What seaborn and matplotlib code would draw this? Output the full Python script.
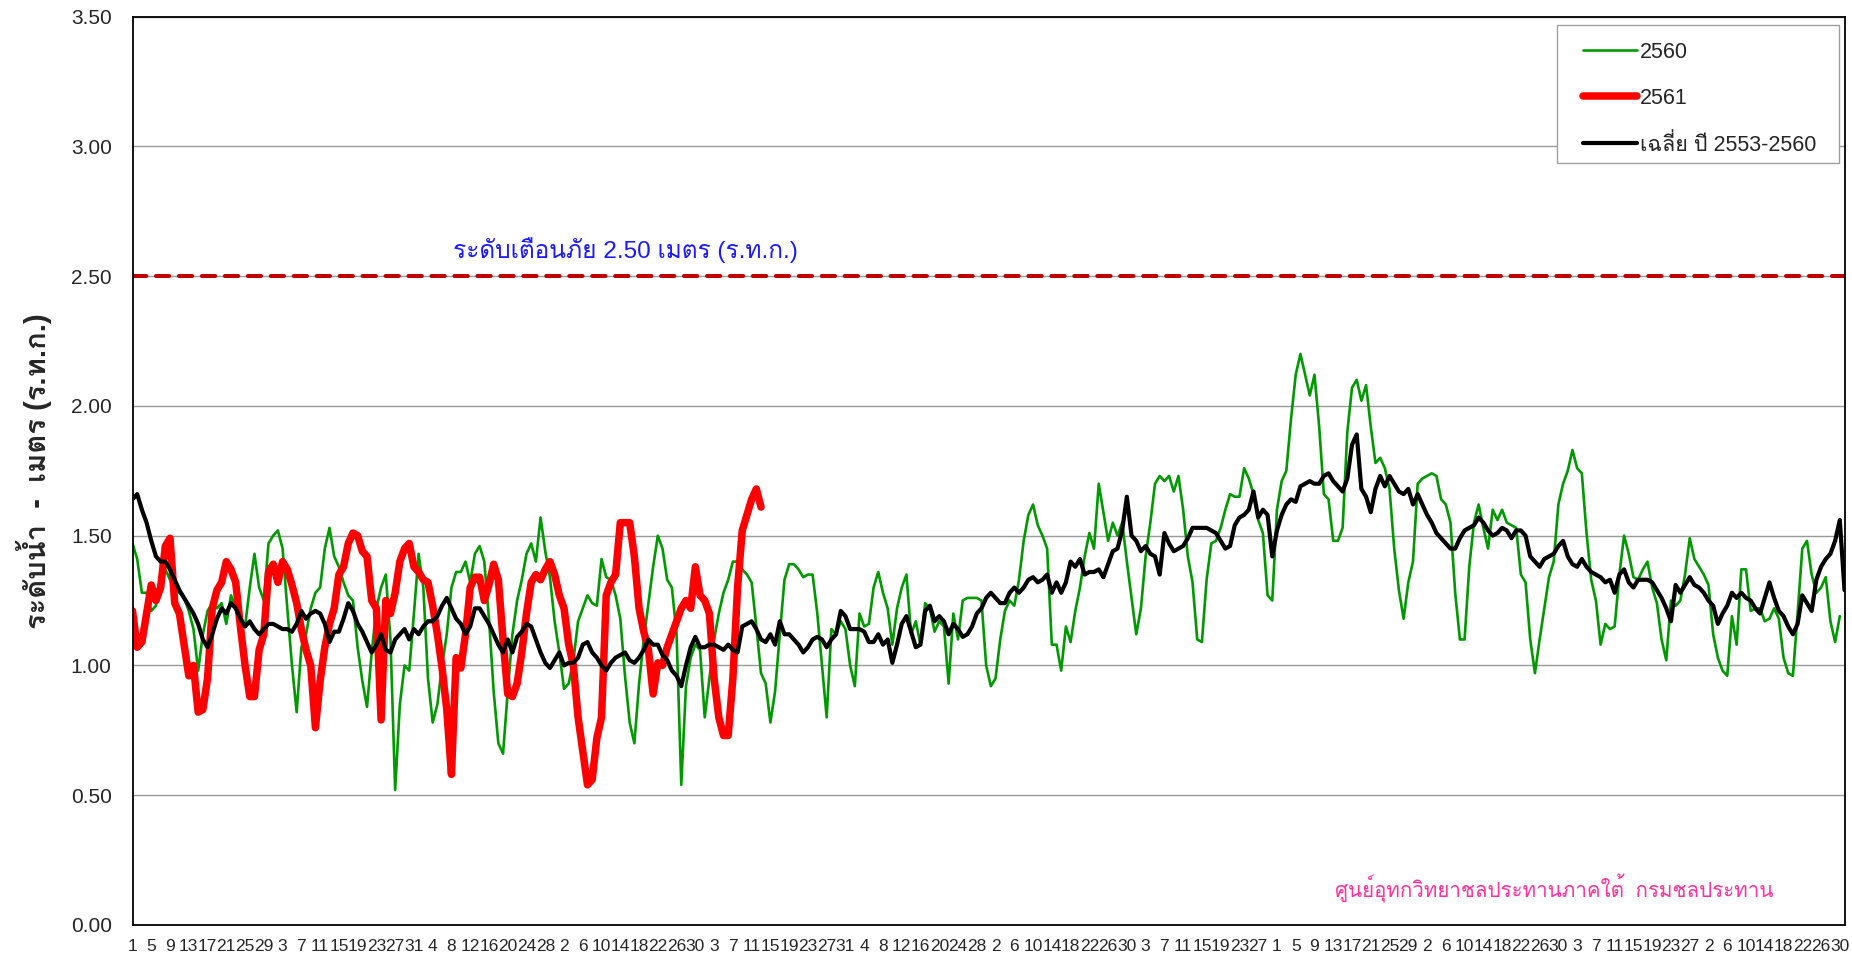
import matplotlib
matplotlib.use("Agg")
import matplotlib.pyplot as plt
import numpy as np
import pandas as pd
import seaborn as sns
from matplotlib import font_manager
from matplotlib.ft2font import FT2Font
from matplotlib.patches import Rectangle

# water year runs April -> March, one value per day
month_days = [30, 31, 30, 31, 31, 30, 31, 30, 31, 31, 29, 31]

# 2560 (green), 365 values
level_2560 = [
    1.47, 1.41, 1.28, 1.28, 1.21, 1.23, 1.36, 1.37, 1.33, 1.29,
    1.28, 1.26, 1.21, 1.14, 0.98, 1.12, 1.21, 1.24, 1.22, 1.24,
    1.16, 1.27, 1.22, 1.18, 1.15, 1.30, 1.43, 1.30, 1.25, 1.47,
    1.50, 1.52, 1.45, 1.22, 1.00, 0.82, 1.07, 1.12, 1.22, 1.28,
    1.30, 1.45, 1.53, 1.42, 1.38, 1.32, 1.27, 1.25, 1.07, 0.94,
    0.84, 1.05, 1.22, 1.30, 1.35, 1.10, 0.52, 0.85, 1.00, 0.98,
    1.20, 1.43, 1.30, 0.95, 0.78, 0.85, 1.00, 1.12, 1.30, 1.36,
    1.36, 1.40, 1.32, 1.43, 1.46, 1.40, 1.18, 0.90, 0.70, 0.66,
    0.90, 1.12, 1.25, 1.33, 1.43, 1.47, 1.40, 1.57, 1.44, 1.34,
    1.17, 1.05, 0.91, 0.93, 1.02, 1.17, 1.22, 1.27, 1.24, 1.23,
    1.41, 1.34, 1.33, 1.27, 1.18, 0.96, 0.78, 0.70, 0.93, 1.10,
    1.24, 1.38, 1.50, 1.45, 1.33, 1.30, 1.12, 0.54, 0.92, 1.03,
    1.08, 1.06, 0.80, 0.95, 1.10, 1.20, 1.28, 1.33, 1.40, 1.40,
    1.37, 1.35, 1.32, 1.15, 0.97, 0.93, 0.78, 0.90, 1.12, 1.33,
    1.39, 1.39, 1.37, 1.34, 1.35, 1.35, 1.20, 1.00, 0.80, 1.14,
    1.12, 1.17, 1.14, 1.00, 0.92, 1.20, 1.15, 1.16, 1.30, 1.36,
    1.28, 1.22, 1.08, 1.22, 1.30, 1.35, 1.12, 1.17, 1.08, 1.24,
    1.22, 1.13, 1.17, 1.15, 0.93, 1.20, 1.10, 1.25, 1.26, 1.26,
    1.26, 1.25, 1.00, 0.92, 0.95, 1.10, 1.21, 1.25, 1.23, 1.33,
    1.48, 1.58, 1.62, 1.54, 1.50, 1.45, 1.08, 1.08, 0.98, 1.15,
    1.09, 1.21, 1.30, 1.42, 1.51, 1.45, 1.70, 1.59, 1.48, 1.55,
    1.50, 1.55, 1.40, 1.26, 1.12, 1.22, 1.42, 1.55, 1.70, 1.73,
    1.71, 1.73, 1.67, 1.73, 1.60, 1.42, 1.32, 1.10, 1.09, 1.33,
    1.47, 1.48, 1.53, 1.60, 1.66, 1.65, 1.65, 1.76, 1.72, 1.66,
    1.56, 1.51, 1.27, 1.25, 1.60, 1.71, 1.75, 1.95, 2.12, 2.20,
    2.12, 2.04, 2.12, 1.92, 1.66, 1.64, 1.48, 1.48, 1.53, 1.90,
    2.07, 2.10, 2.02, 2.08, 1.92, 1.78, 1.80, 1.76, 1.68, 1.45,
    1.29, 1.18, 1.32, 1.40, 1.70, 1.72, 1.73, 1.74, 1.73, 1.64,
    1.62, 1.55, 1.28, 1.10, 1.10, 1.38, 1.55, 1.62, 1.53, 1.45,
    1.60, 1.56, 1.60, 1.55, 1.54, 1.53, 1.35, 1.32, 1.10, 0.97,
    1.10, 1.22, 1.34, 1.40, 1.62, 1.70, 1.75, 1.83, 1.76, 1.74,
    1.51, 1.33, 1.25, 1.08, 1.16, 1.14, 1.15, 1.35, 1.50, 1.43,
    1.34, 1.33, 1.37, 1.40, 1.30, 1.24, 1.10, 1.02, 1.25, 1.23,
    1.25, 1.35, 1.49, 1.41, 1.38, 1.35, 1.31, 1.12, 1.03, 0.98,
    0.96, 1.19, 1.08, 1.37, 1.37, 1.21, 1.22, 1.22, 1.17, 1.18,
    1.22, 1.18, 1.03, 0.97, 0.96, 1.20, 1.45, 1.48, 1.35, 1.28,
    1.30, 1.34, 1.17, 1.09, 1.19,
]

# 2561 (red), Apr 1 -> Aug 13
level_2561 = [
    1.21, 1.07, 1.09, 1.20, 1.31, 1.25, 1.30, 1.46, 1.49, 1.24,
    1.20, 1.08, 0.96, 1.00, 0.82, 0.83, 0.95, 1.22, 1.29, 1.32,
    1.40, 1.37, 1.32, 1.15, 1.00, 0.88, 0.88, 1.06, 1.12, 1.36,
    1.39, 1.32, 1.40, 1.37, 1.31, 1.24, 1.14, 1.06, 1.00, 0.76,
    0.94, 1.07, 1.16, 1.22, 1.35, 1.38, 1.47, 1.51, 1.50, 1.44,
    1.42, 1.25, 1.22, 0.79, 1.25, 1.20, 1.28, 1.40, 1.45, 1.47,
    1.38, 1.36, 1.33, 1.32, 1.23, 1.12, 0.99, 0.83, 0.58, 1.03,
    0.99, 1.12, 1.30, 1.34, 1.34, 1.25, 1.31, 1.39, 1.33, 1.10,
    0.89, 0.88, 0.93, 1.05, 1.20, 1.32, 1.35, 1.33, 1.37, 1.40,
    1.35, 1.27, 1.22, 1.08, 1.00, 0.80, 0.67, 0.54, 0.56, 0.72,
    0.80, 1.27, 1.32, 1.35, 1.55, 1.55, 1.55, 1.42, 1.22, 1.13,
    1.06, 0.89, 1.01, 1.00, 1.07, 1.12, 1.17, 1.22, 1.25, 1.22,
    1.38, 1.27, 1.25, 1.20, 0.95, 0.80, 0.73, 0.73, 0.95, 1.30,
    1.52, 1.58, 1.64, 1.68, 1.61,
]

# mean 2553-2560 (black), 366 values
level_avg = [
    1.64, 1.66, 1.60, 1.55, 1.48, 1.42, 1.40, 1.40, 1.37, 1.33,
    1.29, 1.26, 1.23, 1.20, 1.16, 1.10, 1.07, 1.12, 1.18, 1.22,
    1.20, 1.24, 1.22, 1.18, 1.15, 1.17, 1.14, 1.12, 1.14, 1.16,
    1.16, 1.15, 1.14, 1.14, 1.13, 1.16, 1.21, 1.18, 1.20, 1.21,
    1.20, 1.16, 1.09, 1.13, 1.13, 1.18, 1.24, 1.21, 1.16, 1.13,
    1.09, 1.05, 1.08, 1.12, 1.06, 1.05, 1.10, 1.12, 1.14, 1.10,
    1.14, 1.12, 1.15, 1.17, 1.17, 1.19, 1.23, 1.26, 1.22, 1.18,
    1.16, 1.12, 1.15, 1.22, 1.22, 1.19, 1.16, 1.12, 1.08, 1.05,
    1.10, 1.05, 1.11, 1.13, 1.16, 1.15, 1.10, 1.05, 1.01, 0.99,
    1.02, 1.05, 1.00, 1.01, 1.01, 1.03, 1.08, 1.09, 1.05, 1.03,
    1.00, 0.98, 1.01, 1.03, 1.04, 1.05, 1.02, 1.01, 1.03, 1.06,
    1.10, 1.08, 1.08, 1.04, 1.02, 0.98, 0.96, 0.92, 1.00, 1.07,
    1.11, 1.07, 1.07, 1.08, 1.08, 1.07, 1.06, 1.08, 1.06, 1.05,
    1.15, 1.16, 1.17, 1.14, 1.10, 1.09, 1.12, 1.08, 1.17, 1.12,
    1.12, 1.10, 1.08, 1.05, 1.07, 1.10, 1.11, 1.10, 1.07, 1.10,
    1.12, 1.21, 1.19, 1.14, 1.14, 1.14, 1.13, 1.09, 1.09, 1.12,
    1.08, 1.10, 1.01, 1.08, 1.16, 1.19, 1.13, 1.07, 1.08, 1.21,
    1.23, 1.17, 1.19, 1.17, 1.12, 1.16, 1.14, 1.11, 1.12, 1.15,
    1.20, 1.22, 1.26, 1.28, 1.26, 1.24, 1.24, 1.28, 1.30, 1.28,
    1.30, 1.33, 1.34, 1.32, 1.33, 1.35, 1.28, 1.32, 1.28, 1.32,
    1.40, 1.38, 1.41, 1.35, 1.36, 1.36, 1.37, 1.34, 1.39, 1.44,
    1.45, 1.52, 1.65, 1.50, 1.48, 1.44, 1.46, 1.43, 1.42, 1.35,
    1.51, 1.47, 1.44, 1.45, 1.46, 1.49, 1.53, 1.53, 1.53, 1.53,
    1.52, 1.51, 1.48, 1.45, 1.46, 1.54, 1.57, 1.58, 1.60, 1.67,
    1.57, 1.60, 1.58, 1.42, 1.52, 1.58, 1.62, 1.64, 1.63, 1.69,
    1.70, 1.71, 1.70, 1.70, 1.73, 1.74, 1.71, 1.69, 1.67, 1.72,
    1.85, 1.89, 1.68, 1.65, 1.59, 1.68, 1.73, 1.69, 1.73, 1.70,
    1.67, 1.66, 1.68, 1.62, 1.66, 1.62, 1.58, 1.55, 1.51, 1.49,
    1.47, 1.45, 1.45, 1.49, 1.52, 1.53, 1.54, 1.57, 1.55, 1.52,
    1.50, 1.51, 1.53, 1.52, 1.49, 1.52, 1.52, 1.50, 1.42, 1.40,
    1.38, 1.41, 1.42, 1.43, 1.46, 1.48, 1.42, 1.39, 1.38, 1.41,
    1.38, 1.36, 1.35, 1.34, 1.32, 1.33, 1.28, 1.35, 1.37, 1.32,
    1.30, 1.33, 1.33, 1.33, 1.32, 1.29, 1.26, 1.22, 1.17, 1.31,
    1.28, 1.31, 1.34, 1.31, 1.30, 1.28, 1.25, 1.23, 1.16, 1.20,
    1.23, 1.28, 1.26, 1.28, 1.26, 1.25, 1.22, 1.20, 1.26, 1.32,
    1.26, 1.21, 1.19, 1.15, 1.12, 1.16, 1.27, 1.24, 1.21, 1.33,
    1.38, 1.41, 1.43, 1.48, 1.56, 1.29,
]

warn_level = 2.50
series_names = ["2560", "2561", "เฉลี่ย ปี 2553-2560"]
series_colors = ["#009900", "#ff0000", "#000000"]


def find_thai_font():
    # first installed family that has Thai glyphs
    for fe in font_manager.fontManager.ttflist:
        try:
            if FT2Font(fe.fname).get_char_index(0x0E01):
                return fe.name
        except Exception:
            pass
    return None


# day-of-month label for every day of the water year
day_of_month = [d for n in month_days for d in range(1, n + 1)]
days = np.arange(len(day_of_month))

df_2560 = pd.DataFrame({"day": days[:len(level_2560)], "level": level_2560})
df_2561 = pd.DataFrame({"day": days[:len(level_2561)], "level": level_2561})
df_avg = pd.DataFrame({"day": days[:len(level_avg)], "level": level_avg})

sns.set_style("white")
thai = find_thai_font()
families = ["Liberation Sans"]
if thai:
    families.append(thai)
families.append("DejaVu Sans")
plt.rcParams["font.family"] = families

W, H = 1852, 961
fig = plt.figure(figsize=(W / 100, H / 100), dpi=100)
ax = fig.add_axes([132.5 / W, 36 / H, 1712 / W, 908.5 / H])

ax.grid(axis="y", color="#9a9a9a", linewidth=1.0)
ax.set_axisbelow(True)

sns.lineplot(data=df_2560, x="day", y="level", ax=ax, color=series_colors[0],
             linewidth=1.9, label=series_names[0])
sns.lineplot(data=df_2561, x="day", y="level", ax=ax, color=series_colors[1],
             linewidth=5.4, label=series_names[1], solid_capstyle="round")
sns.lineplot(data=df_avg, x="day", y="level", ax=ax, color=series_colors[2],
             linewidth=3.0, label=series_names[2])

# warning level
ax.axhline(warn_level, color="#c00000", linewidth=2.9, dashes=(3.3, 2.4),
           dash_capstyle="round", zorder=1.5)
ax.text(105, warn_level + 0.1, "ระดับเตือนภัย 2.50 เมตร (ร.ท.ก.)", color="#1a1aff",
        fontsize=17.6, ha="center", va="center")
ax.text(303, 0.14, "ศูนย์อุทกวิทยาชลประทานภาคใต้  กรมชลประทาน", color="#ff3399",
        fontsize=14.8, ha="center", va="center")

ax.set_xlim(0, 365)
ax.set_ylim(0, 3.5)
ax.set_yticks(np.arange(0, 3.51, 0.5))
ax.set_yticklabels([f"{v:.2f}" for v in np.arange(0, 3.51, 0.5)], fontsize=15)
ax.set_xticks(days[::4])
ax.set_xticklabels([str(day_of_month[i]) for i in days[::4]], fontsize=12.5)
ax.set_xticks(days[2::4], minor=True)
ax.tick_params(axis="both", which="both", direction="out", length=6, width=1.2,
               color="black")
ax.tick_params(axis="x", pad=4)
ax.tick_params(axis="y", pad=9)

ax.set_xlabel("")
ax.set_ylabel("ระดับน้ำ  -  เมตร (ร.ท.ก.)", fontsize=21, fontweight="bold")
ax.yaxis.set_label_coords(-0.047, 0.5)

for s in ax.spines.values():
    s.set_visible(True)
    s.set_color("black")
    s.set_linewidth(1.3)

# legend box drawn separately so the padding can differ left/right vs top/bottom
ax.add_patch(Rectangle((1557 / W, 1 - 163 / H), 282 / W, 138 / H,
                       transform=fig.transFigure, facecolor="white",
                       edgecolor="#a0a0a0", linewidth=1.0, zorder=4,
                       clip_on=False))
leg = ax.legend(loc="upper left", bbox_to_anchor=(1583 / W, 1 - 41.5 / H),
                bbox_transform=fig.transFigure, fontsize=15.5, frameon=False,
                handlelength=2.5, handletextpad=0.15, labelspacing=1.17,
                borderpad=0, borderaxespad=0)
leg.set_zorder(5)

fig.savefig("out.png", dpi=100)
